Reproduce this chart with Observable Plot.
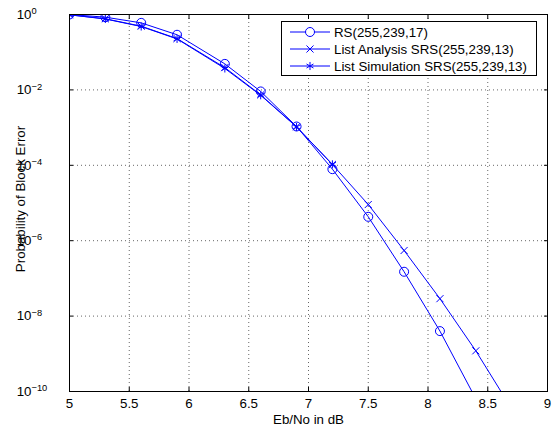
<!DOCTYPE html>
<html>
<head>
<meta charset="utf-8">
<script src="https://cdn.jsdelivr.net/npm/d3@7"></script>
<script src="https://cdn.jsdelivr.net/npm/@observablehq/plot@0.6"></script>
<style>
  html, body { margin: 0; padding: 0; background: #fff; }
  #chart { position: relative; width: 559px; height: 430px; }
</style>
</head>
<body>
<div id="chart"></div>
<script>
// ---- data ----
const ebno = [5, 5.3, 5.6, 5.9, 6.3, 6.6, 6.9, 7.2, 7.5, 7.8, 8.1, 8.4, 8.7];
const rsValues = [1.0, 0.85, 0.60, 0.29, 0.049, 0.0091, 1.07e-3, 7.9e-5, 4.3e-6, 1.5e-7, 4.0e-9, 6.4e-11];
const analysisValues = [0.98, 0.77, 0.49, 0.23, 0.039, 0.0074, 1.05e-3, 1.05e-4, 9.1e-6, 5.5e-7, 2.9e-8, 1.2e-9, 3.5e-11];
const simulationValues = [0.98, 0.76, 0.48, 0.225, 0.037, 0.0072, 1.04e-3, 1.06e-4];
const seriesNames = ["RS(255,239,17)", "List Analysis SRS(255,239,13)", "List Simulation SRS(255,239,13)"];
const seriesSymbols = ["circle", "times", "asterisk"];
const seriesR = [4.5, 3.3, 3.8];
const xTicks = [5, 5.5, 6, 6.5, 7, 7.5, 8, 8.5, 9];
const yTicks = [1, 1e-2, 1e-4, 1e-6, 1e-8, 1e-10];
const yExponents = ["0", "\u22122", "\u22124", "\u22126", "\u22128", "\u221210"];
const xLabel = "Eb/No in dB";
const yLabel = "Probability of Block Error";

const blue = "#0000ff";
const allValues = [rsValues, analysisValues, simulationValues];
const rows = [];
allValues.forEach((vals, s) => vals.forEach((v, i) => rows.push({series: seriesNames[s], s, x: ebno[i], y: v})));

const lineMarks = [];
seriesNames.forEach((name, s) => {
  const data = rows.filter(d => d.s === s);
  lineMarks.push(Plot.line(data, {x: "x", y: "y", stroke: blue, strokeWidth: 1, clip: true}));
  lineMarks.push(Plot.dot(data, {x: "x", y: "y", symbol: seriesSymbols[s], r: seriesR[s], stroke: blue, fill: "none", strokeWidth: 1, clip: true}));
});

const innerX = xTicks.filter(d => d > 5 && d < 9);
const innerY = yTicks.filter(d => d < 1 && d > 1e-10);

const plot = Plot.plot({
  width: 559,
  height: 430,
  marginLeft: 69,
  marginRight: 12,
  marginTop: 14,
  marginBottom: 39,
  style: {fontFamily: "'Liberation Sans', Arial, sans-serif", fontSize: "13.3px", background: "white", color: "black"},
  x: {domain: [5, 9]},
  y: {type: "log", domain: [1e-10, 1]},
  marks: [
    Plot.gridX(innerX, {stroke: "#000", strokeOpacity: 0.6, strokeDasharray: "1,3"}),
    Plot.gridY(innerY, {stroke: "#000", strokeOpacity: 0.6, strokeDasharray: "1,3"}),
    Plot.axisX({anchor: "bottom", ticks: xTicks, tickSize: 0, tickPadding: 7, tickFormat: d => String(d), label: null}),
    Plot.axisX({anchor: "bottom", ticks: xTicks, tickSize: -4, tickFormat: () => "", label: null}),
    Plot.axisX({anchor: "top", ticks: xTicks, tickSize: -4, tickFormat: () => "", label: null}),
    Plot.axisY({anchor: "left", ticks: yTicks, tickSize: 0, tickPadding: 19, tickFormat: d => yExponents[yTicks.indexOf(d)], label: null}),
    Plot.axisY({anchor: "left", ticks: yTicks, tickSize: -4, tickFormat: () => "", label: null}),
    Plot.axisY({anchor: "right", ticks: yTicks, tickSize: -4, tickFormat: () => "", label: null}),
    ...lineMarks,
    Plot.frame({stroke: "black", strokeWidth: 1}),
    Plot.text([xLabel], {frameAnchor: "bottom", lineAnchor: "middle", textAnchor: "middle", dy: 28, text: d => d, fontSize: 13.3}),
    Plot.text([yLabel], {frameAnchor: "left", lineAnchor: "middle", textAnchor: "middle", dx: -49, dy: -4, rotate: -90, text: d => d, fontSize: 13.3})
  ]
});

document.getElementById("chart").appendChild(plot);

// superscript exponents on the y tick labels: "10" + raised exponent
const svg = d3.select(plot);
svg.selectAll("text").each(function() {
  const t = d3.select(this);
  const exp = t.text();
  if (this.querySelector("tspan") && this.querySelectorAll("tspan").length > 1) return;
  if (!yExponents.includes(exp)) return;
  const g = this.parentNode;
  const lbl = g && g.getAttribute && (g.getAttribute("aria-label") || "");
  if (lbl.indexOf("x-axis") >= 0) return;
  t.text(null);
  t.append("tspan").text("10");
  t.append("tspan").attr("dy", "-4.5").attr("font-size", "9.3px").text(exp);
  // align so that the base "10" ends at x=50 (axis at 69) and the exponent overhangs
  const baseW = this.firstChild.getComputedTextLength();
  t.attr("text-anchor", "start").attr("dx", -(19 + baseW));
});

// legend
const lg = svg.append("g").attr("font-family", "'Liberation Sans', Arial, sans-serif").attr("font-size", "13.3px").attr("text-anchor", "start");
lg.append("rect").attr("x", 281.5).attr("y", 21.5).attr("width", 255).attr("height", 54)
  .attr("fill", "white").attr("stroke", "black").attr("stroke-width", 1);
const symMap = {circle: d3.symbolCircle, times: d3.symbolTimes, asterisk: d3.symbolAsterisk};
seriesNames.forEach((name, s) => {
  const y = 32 + s * 17;
  lg.append("line").attr("x1", 290).attr("x2", 330).attr("y1", y).attr("y2", y).attr("stroke", blue).attr("stroke-width", 1);
  lg.append("path").attr("transform", `translate(310,${y})`)
    .attr("d", d3.symbol(symMap[seriesSymbols[s]], Math.PI * seriesR[s] * seriesR[s])())
    .attr("fill", s === 0 ? "white" : "none").attr("stroke", blue).attr("stroke-width", 1);
  lg.append("text").attr("x", 334).attr("y", y).attr("dy", "0.35em").attr("text-anchor", "start").attr("fill", "black").text(name);
});
</script>
</body>
</html>
